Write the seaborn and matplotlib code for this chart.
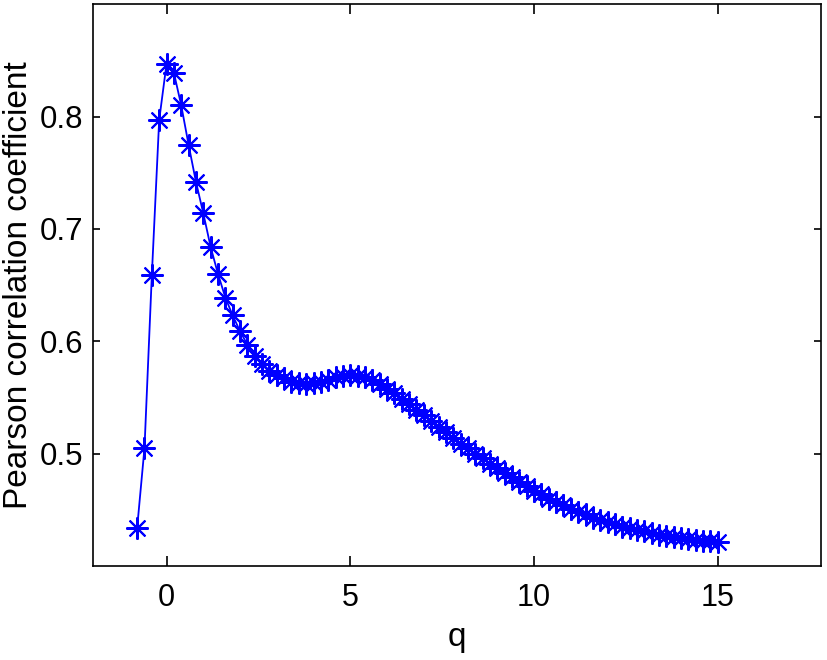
import numpy as np
import pandas as pd
import matplotlib
matplotlib.use("Agg")
import matplotlib.pyplot as plt
import seaborn as sns

q = [-0.8, -0.6, -0.4, -0.2, 0.0, 0.2, 0.4, 0.6, 0.8, 1.0,
     1.2, 1.4, 1.6, 1.8, 2.0, 2.2, 2.4, 2.6, 2.8, 3.0,
     3.2, 3.4, 3.6, 3.8, 4.0, 4.2, 4.4, 4.6, 4.8, 5.0,
     5.2, 5.4, 5.6, 5.8, 6.0, 6.2, 6.4, 6.6, 6.8, 7.0,
     7.2, 7.4, 7.6, 7.8, 8.0, 8.2, 8.4, 8.6, 8.8, 9.0,
     9.2, 9.4, 9.6, 9.8, 10.0, 10.2, 10.4, 10.6, 10.8, 11.0,
     11.2, 11.4, 11.6, 11.8, 12.0, 12.2, 12.4, 12.6, 12.8, 13.0,
     13.2, 13.4, 13.6, 13.8, 14.0, 14.2, 14.4, 14.6, 14.8, 15.0]

pearson = [0.434, 0.505, 0.659, 0.797, 0.847, 0.839, 0.810, 0.775, 0.742, 0.714,
           0.684, 0.660, 0.639, 0.623, 0.609, 0.597, 0.587, 0.580, 0.574, 0.570,
           0.567, 0.564, 0.563, 0.562, 0.563, 0.564, 0.566, 0.568, 0.569, 0.570,
           0.569, 0.568, 0.566, 0.562, 0.558, 0.554, 0.549, 0.544, 0.539, 0.534,
           0.529, 0.524, 0.519, 0.514, 0.509, 0.505, 0.500, 0.496, 0.491, 0.487,
           0.483, 0.479, 0.475, 0.471, 0.467, 0.464, 0.460, 0.457, 0.454, 0.451,
           0.448, 0.446, 0.443, 0.441, 0.439, 0.437, 0.435, 0.434, 0.432, 0.431,
           0.429, 0.428, 0.427, 0.426, 0.425, 0.424, 0.423, 0.4225, 0.422, 0.421]

xticks = [0, 5, 10, 15]
yticks = [0.5, 0.6, 0.7, 0.8]

sns.set_style("ticks")
plt.rcParams['font.family'] = ['Liberation Sans', 'DejaVu Sans']
plt.rcParams['text.color'] = 'black'
plt.rcParams['axes.labelcolor'] = 'black'
plt.rcParams['xtick.color'] = 'black'
plt.rcParams['ytick.color'] = 'black'

fig = plt.figure(figsize=(8.27, 6.6), dpi=100)
ax = fig.add_axes([0.1125, 0.1424, 0.9924 - 0.1125, 0.9935 - 0.1424])

df = pd.DataFrame({"q": q, "r": pearson})
sns.lineplot(data=df, x="q", y="r", ax=ax, color=(0, 0, 1), linewidth=1.3,
             marker=(8, 2, 0), markersize=16, markeredgecolor=(0, 0, 1),
             markerfacecolor=(0, 0, 1), markeredgewidth=1.5, sort=False)

ax.set_xlim(-2, 17.8)
ax.set_ylim(0.4, 0.9)
ax.set_xticks(xticks)
ax.set_xticklabels([str(t) for t in xticks])
ax.set_yticks(yticks)
ax.set_yticklabels([f"{t:.1f}" for t in yticks])
ax.tick_params(axis='x', which='both', direction='in', top=True, bottom=True,
               labelsize=22, length=7, width=1.2, colors='black', pad=12)
ax.tick_params(axis='y', which='both', direction='in', left=True, right=True,
               labelsize=22.5, length=5, width=1.2, colors='black', pad=7)
for s in ax.spines.values():
    s.set_linewidth(1.2)
    s.set_color('black')
ax.set_xlabel("q", fontsize=24, labelpad=7, color='black')
ax.set_ylabel("Pearson correlation coefficient", fontsize=24, labelpad=4, color='black')

fig.savefig("out.png", dpi=100)
